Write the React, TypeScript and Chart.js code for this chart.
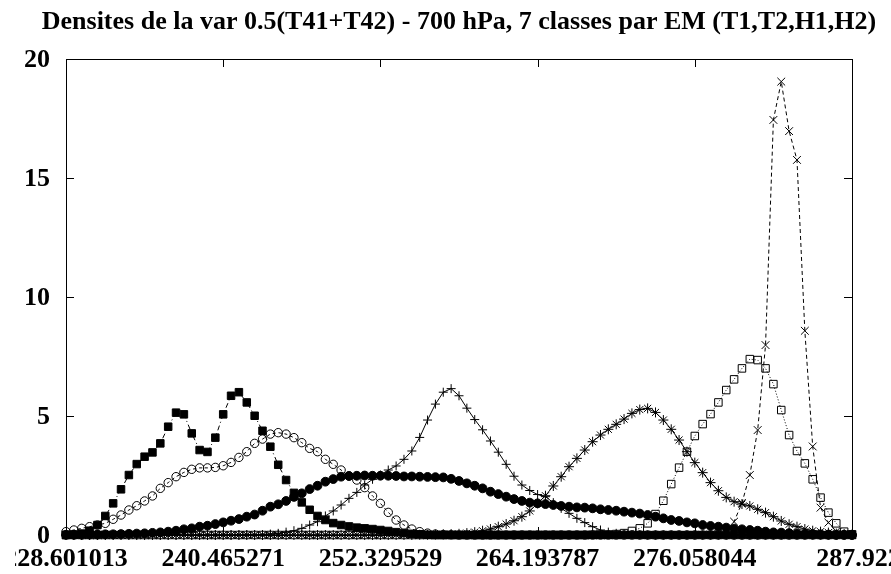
import React, { useEffect, useRef } from 'react';
import { Chart, registerables } from 'chart.js';

Chart.register(...registerables);

const TITLE = 'Densites de la var 0.5(T41+T42) - 700 hPa, 7 classes par EM (T1,T2,H1,H2)';

// sampling grid of the densities (101 points)
const X_START = 228.601013;
const X_STEP = 0.5932129;

const X_TICKS = [228.601013, 240.465271, 252.329529, 264.193787, 276.058044, 287.922302];
const X_TICK_LABELS = ['228.601013', '240.465271', '252.329529', '264.193787', '276.058044', '287.922302'];
const Y_TICKS = [0, 5, 10, 15, 20];
const Y_TICK_LABELS = ['0', '5', '10', '15', '20'];

const CLASS_FILLED_SQUARES = [
  0, 0.02, 0.06, 0.18, 0.42, 0.8, 1.33, 1.92, 2.52, 2.98,
  3.29, 3.47, 3.85, 4.55, 5.14, 5.07, 4.27, 3.57, 3.49, 4.09,
  5.07, 5.85, 6.0, 5.57, 5.01, 4.38, 3.71, 2.95, 2.31, 1.77,
  1.37, 1.06, 0.8, 0.63, 0.5, 0.42, 0.36, 0.31, 0.28, 0.25,
  0.21, 0.17, 0.12, 0.08, 0.05, 0.03, 0.01, 0, 0, 0,
  0, 0, 0, 0, 0, 0, 0, 0, 0, 0,
  0, 0, 0, 0, 0, 0, 0, 0, 0, 0,
  0, 0, 0, 0, 0, 0, 0, 0, 0, 0,
  0, 0, 0, 0, 0, 0, 0, 0, 0, 0,
  0, 0, 0, 0, 0, 0, 0, 0, 0, 0,
  0,
];

const CLASS_OPEN_CIRCLES = [
  0.14, 0.21, 0.28, 0.35, 0.42, 0.49, 0.66, 0.84, 1.05, 1.23,
  1.43, 1.64, 1.96, 2.2, 2.45, 2.63, 2.76, 2.82, 2.82, 2.84,
  2.91, 3.05, 3.26, 3.5, 3.85, 4.03, 4.24, 4.3, 4.24, 4.09,
  3.88, 3.64, 3.5, 3.18, 2.97, 2.73, 2.48, 2.31, 1.99, 1.64,
  1.33, 0.95, 0.63, 0.42, 0.25, 0.14, 0.08, 0.04, 0.02, 0.01,
  0, 0, 0, 0, 0, 0, 0, 0, 0, 0,
  0, 0, 0, 0, 0, 0, 0, 0, 0, 0,
  0, 0, 0, 0, 0, 0, 0, 0, 0, 0,
  0, 0, 0, 0, 0, 0, 0, 0, 0, 0,
  0, 0, 0, 0, 0, 0, 0, 0, 0, 0,
  0,
];

const CLASS_FILLED_CIRCLES = [
  0.01, 0.01, 0.01, 0.02, 0.02, 0.03, 0.03, 0.04, 0.05, 0.06,
  0.07, 0.09, 0.11, 0.14, 0.18, 0.24, 0.28, 0.35, 0.39, 0.46,
  0.53, 0.6, 0.67, 0.77, 0.86, 1.02, 1.19, 1.29, 1.43, 1.6,
  1.75, 1.93, 2.07, 2.24, 2.35, 2.45, 2.48, 2.49, 2.5, 2.49,
  2.49, 2.49, 2.48, 2.46, 2.46, 2.45, 2.44, 2.43, 2.42, 2.36,
  2.27, 2.17, 2.07, 1.96, 1.82, 1.72, 1.61, 1.51, 1.43, 1.36,
  1.33, 1.3, 1.26, 1.22, 1.19, 1.16, 1.15, 1.12, 1.08, 1.05,
  1.02, 0.98, 0.94, 0.9, 0.84, 0.77, 0.7, 0.63, 0.59, 0.53,
  0.49, 0.42, 0.38, 0.35, 0.31, 0.27, 0.24, 0.21, 0.18, 0.14,
  0.11, 0.1, 0.08, 0.06, 0.05, 0.04, 0.03, 0.02, 0.01, 0.01,
  0,
];

const CLASS_PLUS = [
  0, 0, 0, 0, 0, 0, 0, 0, 0, 0,
  0, 0, 0, 0, 0, 0, 0, 0, 0, 0,
  0, 0, 0, 0.01, 0.01, 0.02, 0.04, 0.07, 0.12, 0.18,
  0.28, 0.42, 0.56, 0.8, 1.01, 1.26, 1.54, 1.79, 2.1, 2.34,
  2.52, 2.73, 2.9, 3.18, 3.53, 4.1, 4.83, 5.5, 6.0, 6.15,
  5.85, 5.33, 4.85, 4.42, 3.95, 3.48, 2.97, 2.47, 2.1, 1.87,
  1.7, 1.61, 1.36, 1.12, 0.91, 0.7, 0.52, 0.35, 0.21, 0.12,
  0.07, 0.04, 0.02, 0.01, 0, 0, 0, 0, 0, 0,
  0, 0, 0, 0, 0, 0, 0, 0, 0, 0,
  0, 0, 0, 0, 0, 0, 0, 0, 0, 0,
  0,
];

const CLASS_STAR = [
  0, 0, 0, 0, 0, 0, 0, 0, 0, 0,
  0, 0, 0, 0, 0, 0, 0, 0, 0, 0,
  0, 0, 0, 0, 0, 0, 0, 0, 0, 0,
  0, 0, 0, 0, 0, 0, 0, 0, 0, 0,
  0, 0, 0, 0, 0, 0.01, 0.01, 0.02, 0.03, 0.04,
  0.05, 0.08, 0.12, 0.18, 0.25, 0.35, 0.46, 0.6, 0.77, 1.01,
  1.33, 1.65, 2.06, 2.45, 2.87, 3.22, 3.57, 3.92, 4.2, 4.44,
  4.65, 4.87, 5.11, 5.27, 5.32, 5.15, 4.83, 4.44, 3.99, 3.5,
  3.04, 2.62, 2.2, 1.86, 1.58, 1.4, 1.3, 1.22, 1.08, 0.94,
  0.77, 0.59, 0.45, 0.35, 0.25, 0.18, 0.14, 0.1, 0.06, 0.04,
  0.02,
];

const CLASS_OPEN_SQUARES = [
  0, 0, 0, 0, 0, 0, 0, 0, 0, 0,
  0, 0, 0, 0, 0, 0, 0, 0, 0, 0,
  0, 0, 0, 0, 0, 0, 0, 0, 0, 0,
  0, 0, 0, 0, 0, 0, 0, 0, 0, 0,
  0, 0, 0, 0, 0, 0, 0, 0, 0, 0,
  0, 0, 0, 0, 0, 0, 0, 0, 0, 0,
  0, 0, 0, 0, 0, 0, 0, 0.01, 0.01, 0.02,
  0.04, 0.08, 0.17, 0.28, 0.49, 0.88, 1.44, 2.14, 2.83, 3.5,
  4.16, 4.66, 5.08, 5.57, 6.09, 6.54, 7.0, 7.39, 7.35, 7.0,
  6.34, 5.25, 4.2, 3.53, 3.01, 2.34, 1.57, 0.94, 0.49, 0.14,
  0.03,
];

const CLASS_CROSS = [
  0, 0, 0, 0, 0, 0, 0, 0, 0, 0,
  0, 0, 0, 0, 0, 0, 0, 0, 0, 0,
  0, 0, 0, 0, 0, 0, 0, 0, 0, 0,
  0, 0, 0, 0, 0, 0, 0, 0, 0, 0,
  0, 0, 0, 0, 0, 0, 0, 0, 0, 0,
  0, 0, 0, 0, 0, 0, 0, 0, 0, 0,
  0, 0, 0, 0, 0, 0, 0, 0, 0, 0,
  0, 0, 0, 0, 0, 0, 0, 0, 0, 0,
  0, 0.01, 0.02, 0.05, 0.15, 0.56, 1.35, 2.52, 4.41, 7.98,
  17.44, 19.05, 16.97, 15.76, 8.58, 3.72, 1.15, 0.52, 0.15, 0.04,
  0.01,
];

const FONT = 'bold 26px "Liberation Serif", "Times New Roman", serif';
// layout quirks of the original picture: the left label is cut by the page edge,
// the last label is pushed to the right
const LABEL_CLIP_LEFT = 15;
const LAST_LABEL_SHIFT = 26;

const toPoints = (vals: number[]) => vals.map((v, i) => ({ x: X_START + i * X_STEP, y: v }));

const framePlugin = {
  id: 'gnuFrame',
  beforeDatasetsDraw(chart: any) {
    const { ctx, chartArea: a, scales } = chart;
    const xs = scales.x;
    const ys = scales.y;
    ctx.save();
    ctx.strokeStyle = '#000';
    ctx.lineWidth = 1;
    ctx.strokeRect(a.left + 0.5, a.top + 0.5, a.right - a.left, a.bottom - a.top);
    const TL = 8;
    ctx.beginPath();
    Y_TICKS.forEach((v) => {
      const y = Math.round(ys.getPixelForValue(v)) + 0.5;
      ctx.moveTo(a.left, y);
      ctx.lineTo(a.left + TL, y);
      ctx.moveTo(a.right, y);
      ctx.lineTo(a.right - TL, y);
    });
    X_TICKS.forEach((v) => {
      const x = Math.round(xs.getPixelForValue(v)) + 0.5;
      ctx.moveTo(x, a.bottom);
      ctx.lineTo(x, a.bottom - TL);
      ctx.moveTo(x, a.top);
      ctx.lineTo(x, a.top + TL);
    });
    ctx.stroke();
    ctx.restore();
  },
  afterDraw(chart: any) {
    const { ctx, chartArea: a, scales, width, height } = chart;
    const xs = scales.x;
    const ys = scales.y;
    ctx.save();
    ctx.fillStyle = '#000';
    ctx.font = FONT;
    ctx.textBaseline = 'alphabetic';
    ctx.textAlign = 'right';
    Y_TICKS.forEach((v, i) => {
      ctx.fillText(Y_TICK_LABELS[i], a.left - 16, ys.getPixelForValue(v) + 8);
    });
    ctx.textAlign = 'center';
    ctx.fillText(TITLE, (a.left + a.right) / 2, 29);
    ctx.beginPath();
    ctx.rect(LABEL_CLIP_LEFT, a.bottom, width - LABEL_CLIP_LEFT, height - a.bottom);
    ctx.clip();
    X_TICKS.forEach((v, i) => {
      const shift = i === X_TICKS.length - 1 ? LAST_LABEL_SHIFT : 0;
      ctx.fillText(X_TICK_LABELS[i], xs.getPixelForValue(v) + shift, a.bottom + 31);
    });
    ctx.restore();
  },
};

export default function App() {
  const ref = useRef<HTMLCanvasElement | null>(null);

  useEffect(() => {
    if (!ref.current) return;
    const common = {
      borderColor: '#000',
      borderWidth: 1,
      pointBorderColor: '#000',
      pointBorderWidth: 1,
      tension: 0,
      clip: false as any,
      fill: false,
    };
    const chart = new Chart(ref.current, {
      type: 'line',
      data: {
        datasets: [
          {
            ...common,
            label: 'filled squares',
            data: toPoints(CLASS_FILLED_SQUARES),
            borderDash: [5, 3, 1, 3],
            pointStyle: 'rect',
            pointRadius: 5.3,
            pointBackgroundColor: '#000',
          },
          {
            ...common,
            label: 'open circles',
            data: toPoints(CLASS_OPEN_CIRCLES),
            borderDash: [3, 3],
            pointStyle: 'circle',
            pointRadius: 4.2,
            pointBackgroundColor: 'rgba(0,0,0,0)',
          },
          {
            ...common,
            label: 'filled circles',
            data: toPoints(CLASS_FILLED_CIRCLES),
            borderDash: [],
            pointStyle: 'circle',
            pointRadius: 4.4,
            pointBackgroundColor: '#000',
          },
          {
            ...common,
            label: 'plus',
            data: toPoints(CLASS_PLUS),
            borderDash: [],
            pointStyle: 'cross',
            pointRadius: 4.5,
            pointBackgroundColor: '#000',
          },
          {
            ...common,
            label: 'star',
            data: toPoints(CLASS_STAR),
            borderDash: [],
            pointStyle: 'star',
            pointRadius: 5,
            pointBackgroundColor: '#000',
          },
          {
            ...common,
            label: 'open squares',
            data: toPoints(CLASS_OPEN_SQUARES),
            borderDash: [1, 2],
            pointStyle: 'rect',
            pointRadius: 5.3,
            pointBackgroundColor: 'rgba(0,0,0,0)',
          },
          {
            ...common,
            label: 'cross',
            data: toPoints(CLASS_CROSS),
            borderDash: [4, 3],
            pointStyle: 'crossRot',
            pointRadius: 5.5,
            pointBackgroundColor: '#000',
          },
        ] as any,
      },
      options: {
        animation: false,
        responsive: false,
        devicePixelRatio: 1,
        events: [],
        layout: { padding: { top: 59, right: 39, bottom: 0, left: 0 } },
        plugins: {
          legend: { display: false },
          tooltip: { enabled: false },
          title: { display: false },
        },
        scales: {
          x: {
            type: 'linear',
            min: X_TICKS[0],
            max: X_TICKS[X_TICKS.length - 1],
            grid: { display: false, drawTicks: false },
            border: { display: false },
            ticks: { display: false },
            afterFit: (s: any) => {
              s.height = 39;
            },
          },
          y: {
            type: 'linear',
            min: 0,
            max: 20,
            grid: { display: false, drawTicks: false },
            border: { display: false },
            ticks: { display: false },
            afterFit: (s: any) => {
              s.width = 66;
            },
          },
        },
      } as any,
      plugins: [framePlugin],
    });
    return () => chart.destroy();
  }, []);

  return (
    <div style={{ position: 'fixed', left: 0, top: 0, width: 891, height: 574, background: '#fff' }}>
      <canvas ref={ref} width={891} height={574} style={{ display: 'block' }} />
    </div>
  );
}
